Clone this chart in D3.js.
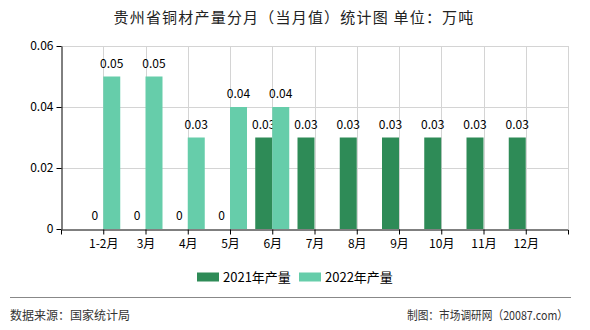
<!DOCTYPE html>
<html><head><meta charset="utf-8">
<script src="https://cdn.jsdelivr.net/npm/d3@7"></script>
<style>
html,body{margin:0;padding:0;background:#fff;}
svg{display:block;font-family:"Noto Sans CJK SC","Noto Sans",sans-serif;}
</style></head>
<body>
<script>
const categories = ["1-2月","3月","4月","5月","6月","7月","8月","9月","10月","11月","12月"];
const values2021 = [0,0,0,0,0.03,0.03,0.03,0.03,0.03,0.03,0.03];
const values2022 = [0.05,0.05,0.03,0.04,0.04,null,null,null,null,null,null];
const yTicks = [0,0.02,0.04,0.06];
const seriesNames = ["2021年产量","2022年产量"];
const colors = ["#2e8b57","#66cdaa"];
const titleText = "贵州省铜材产量分月（当月值）统计图 单位：万吨";
const sourceText = "数据来源：国家统计局";
const creditText = "制图：市场调研网（20087.com）";

(function(){
const W = 590, H = 330;
const pLeft = 61, pRight = 568, pTop = 46, pBottom = 229, barW = 17;

const svg = d3.select("body").append("svg").attr("width", W).attr("height", H);

svg.append("text").attr("x", 294).attr("y", 23).attr("text-anchor","middle")
  .attr("font-size", 15).attr("fill","#222").attr("letter-spacing", "1.2px").text(titleText);

const x = d3.scalePoint().domain(categories).range([pLeft, pRight]).padding(1);
const y = d3.scaleLinear().domain([0, 0.06]).range([pBottom, pTop]);

// grid
const grid = svg.append("g").attr("stroke","#d4d4d4").attr("stroke-width",1);
yTicks.filter(d => d > 0).forEach(t => {
  grid.append("line").attr("x1", pLeft).attr("x2", pRight)
    .attr("y1", Math.round(y(t))+0.5).attr("y2", Math.round(y(t))+0.5);
});
categories.map(c => x(c)).concat([pRight]).forEach(px => {
  grid.append("line").attr("x1", Math.round(px)+0.5).attr("x2", Math.round(px)+0.5)
    .attr("y1", pTop).attr("y2", pBottom);
});

// bars
const data = categories.map((c, i) => ({c, v: [values2021[i], values2022[i]]}));
[0,1].forEach(s => {
  const g = svg.append("g");
  data.forEach(d => {
    const v = d.v[s];
    if (v === null) return;
    const bx = s === 0 ? x(d.c) - barW : x(d.c);
    if (v > 0) {
      g.append("rect").attr("x", bx).attr("y", y(v)).attr("width", barW)
        .attr("height", y(0) - y(v)).attr("fill", colors[s]);
    }
    g.append("text").attr("x", bx + barW/2).attr("y", y(v) - 9)
      .attr("text-anchor","middle").attr("font-size", 12).attr("fill","#000")
      .text(v === 0 ? "0" : v.toFixed(2));
  });
});

// axes
const yAxis = d3.axisLeft(y).tickValues(yTicks).tickSize(5).tickSizeOuter(0)
  .tickFormat(d => d === 0 ? "0" : d.toFixed(2));
const gy = svg.append("g").attr("transform", `translate(${pLeft+0.5},0)`).call(yAxis);
gy.selectAll("text").attr("font-size", 12).attr("fill","#000").attr("font-family","Noto Sans CJK SC");
gy.selectAll("line,path").attr("stroke","#000");

const xAxis = d3.axisBottom(x).tickSize(5).tickSizeOuter(5).tickPadding(5);
const gx = svg.append("g").attr("transform", `translate(0,${pBottom+0.5})`).call(xAxis);
gx.selectAll("text").attr("font-size", 12).attr("fill","#000").attr("font-family","Noto Sans CJK SC");
gx.selectAll("line,path").attr("stroke","#000");

// legend
const legendX = [197, 299];
seriesNames.forEach((n, i) => {
  svg.append("rect").attr("x", legendX[i]).attr("y", 272.5).attr("width", 22).attr("height", 9).attr("fill", colors[i]);
  svg.append("text").attr("x", legendX[i] + 26).attr("y", 281.5).attr("font-size", 13).attr("fill","#000").text(n);
});

// footer
svg.append("line").attr("x1", 10).attr("x2", 571).attr("y1", 297.5).attr("y2", 297.5).attr("stroke","#888").attr("stroke-width",1);
svg.append("text").attr("x", 10).attr("y", 320).attr("font-size", 12).attr("fill","#333").text(sourceText);
svg.append("text").attr("x", 407).attr("y", 320).attr("font-size", 12).attr("fill","#333")
  .attr("textLength", 161).attr("lengthAdjust", "spacingAndGlyphs").text(creditText);
})();
</script>
</body></html>
